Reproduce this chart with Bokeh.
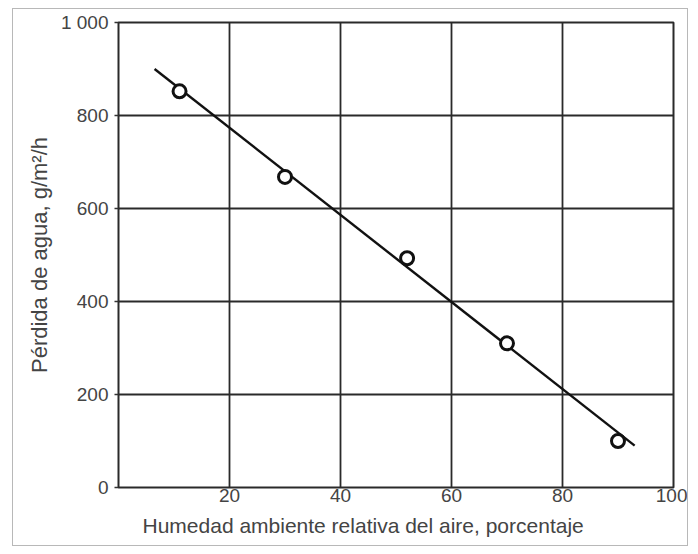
from bokeh.plotting import figure
from bokeh.embed import file_html
from bokeh.resources import INLINE
from bokeh.models import FixedTicker, Range1d, Title

# data
humidity = [11, 30, 52, 70, 90]
water_loss = [852, 668, 493, 310, 100]
fit_x = [6.5, 93]
fit_y = [900, 90]
x_ticks = [20, 40, 60, 80, 100]
y_ticks = [0, 200, 400, 600, 800, 1000]
y_labels = {0: "0", 200: "200", 400: "400", 600: "600", 800: "800", 1000: "1 000"}
x_title = "Humedad ambiente relativa del aire, porcentaje"
y_title = "Pérdida de agua, g/m²/h"

p = figure(width=676, height=538, output_backend="svg", toolbar_location=None,
           x_range=Range1d(0, 100), y_range=Range1d(0, 1000),
           min_border_left=105, min_border_right=16, min_border_top=13, min_border_bottom=60)
p.styles = {"border": "1px solid #b8b8b8", "margin-left": "12px", "margin-top": "8px"}

p.outline_line_color = "#2a2a2a"
p.outline_line_width = 2
p.background_fill_color = "white"

for ax in (p.xaxis, p.yaxis):
    ax.axis_line_color = None
    ax.major_tick_line_color = "#333333"
    ax.major_tick_line_width = 1.5
    ax.major_tick_out = 4
    ax.major_tick_in = 0
    ax.minor_tick_line_color = None
    ax.major_label_text_font = "Liberation Sans"
    ax.major_label_text_font_size = "19px"
    ax.major_label_text_color = "#444444"
    ax.axis_label_text_font = "Liberation Sans"
    ax.axis_label_text_font_style = "normal"
    ax.axis_label_text_color = "#444444"

p.xaxis.ticker = FixedTicker(ticks=x_ticks)
p.yaxis.ticker = FixedTicker(ticks=y_ticks)
p.yaxis.major_label_overrides = y_labels
p.xaxis.major_tick_out = 0
p.xaxis.major_label_standoff = 1
p.yaxis.major_label_standoff = 6

yt = Title(text=y_title, align="center", offset=10, text_font="Liberation Sans",
           text_font_size="22px", text_font_style="normal", text_color="#444444",
           standoff=12)
p.add_layout(yt, "left")

xt = Title(text=x_title, align="left", offset=24, text_font="Liberation Sans",
           text_font_size="21px", text_font_style="normal", text_color="#444444",
           standoff=15)
p.add_layout(xt, "below")

p.xgrid.ticker = FixedTicker(ticks=x_ticks)
p.ygrid.ticker = FixedTicker(ticks=y_ticks)
for g in (p.xgrid, p.ygrid):
    g.grid_line_color = "#2a2a2a"
    g.grid_line_width = 1.8
    g.grid_line_alpha = 1.0

p.line(fit_x, fit_y, line_color="#111111", line_width=2.4)
p.scatter(humidity, water_loss, marker="circle", size=13, fill_color="white",
          line_color="#111111", line_width=3)

open("out.html", "w").write(file_html(p, INLINE))
